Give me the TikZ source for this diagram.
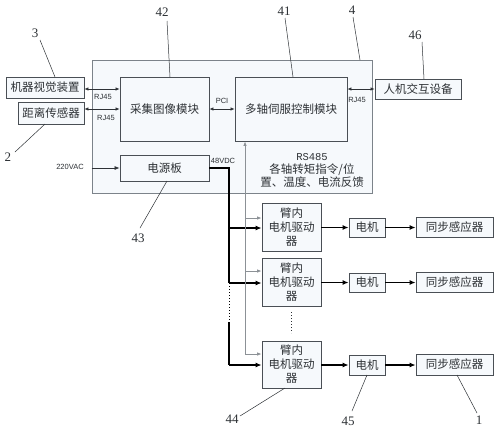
\documentclass[tikz,border=0pt]{standalone}
\usepackage{fontspec}
\setmainfont{Liberation Serif}
\newfontfamily\cjk{Noto Sans CJK SC}
\newfontfamily\smsans{Liberation Sans}
\usetikzlibrary{arrows.meta}
\definecolor{bordc}{HTML}{4A4F55}
\definecolor{bigc}{HTML}{7C838A}
\definecolor{fillc}{HTML}{F6F9FC}
\definecolor{txtc}{HTML}{2E3236}
\definecolor{grayline}{HTML}{8C9196}
\tikzset{
  box/.style={draw=bordc, fill=fillc, line width=0.8pt, inner sep=0pt, align=center,
    font=\cjk\fontsize{11.5}{14}\selectfont, text=txtc},
  bigbox/.style={draw=bigc, fill=fillc, line width=1pt, inner sep=0pt},
  num/.style={font=\fontsize{13}{13}\selectfont, text=txtc, inner sep=0pt},
  lead/.style={draw=txtc, line width=0.5pt},
  tag/.style={font=\smsans\fontsize{7.5}{8}\selectfont, text=txtc, inner sep=0pt},
  bidir/.style={{Latex[length=4pt,width=3.5pt]}-{Latex[length=4pt,width=3.5pt]}, line width=0.7pt, draw=txtc},
  onearr/.style={-{Latex[length=5pt,width=4pt]}, line width=0.7pt, draw=txtc},
  blk/.style={line width=1.4pt, draw=black},
  blkarr/.style={-{Latex[length=6pt,width=5pt]}, line width=1.4pt, draw=black},
  gryarr/.style={-{Latex[length=4.5pt,width=3.5pt]}, line width=0.8pt, draw=grayline},
  dotline/.style={line width=1pt, draw=txtc, dash pattern=on 1pt off 2pt}
}
\begin{document}
\begin{tikzpicture}[x=1pt,y=-1pt]
\useasboundingbox (0,0) rectangle (500,429);
\fill[white] (0,0) rectangle (500,429);

% big box 4
\node[bigbox, minimum width=280pt, minimum height=133pt] (big) at (232,126.5) {};

% inner modules
\node[box, minimum width=89pt, minimum height=64pt] (cap) at (164.5,109) {采集图像模块};
\node[box, minimum width=112pt, minimum height=64pt] (ctrl) at (291,109) {多轴伺服控制模块};
\node[box, minimum width=89pt, minimum height=26pt] (psu) at (164.5,168) {电源板};

% outside devices
\node[box, minimum width=78pt, minimum height=21pt] (vis) at (45,87.5) {机器视觉装置};
\node[box, minimum width=66pt, minimum height=22pt] (dist) at (51,113) {距离传感器};
\node[box, minimum width=86pt, minimum height=20pt] (hmi) at (418,89) {人机交互设备};

% RS485 text
\node[align=center, text=txtc, inner sep=0pt, font=\cjk\fontsize{11.5}{13}\selectfont] (rs) at (312,170)
  {{\fontspec{Liberation Mono}\fontsize{10.5}{13}\selectfont RS485}\\各轴转矩指令/位\\置、温度、电流反馈};

% drivers, motors, sensors
\node[box, minimum width=59pt, minimum height=48pt] (drv1) at (291.5,227) {臂内\\电机驱动\\器};
\node[box, minimum width=59pt, minimum height=48pt] (drv2) at (291.5,282) {臂内\\电机驱动\\器};
\node[box, minimum width=59pt, minimum height=47pt] (drv3) at (291.5,364.5) {臂内\\电机驱动\\器};

\node[box, minimum width=36pt, minimum height=19pt] (mot1) at (367,227.5) {电机};
\node[box, minimum width=36pt, minimum height=19pt] (mot2) at (367,282.5) {电机};
\node[box, minimum width=36pt, minimum height=20pt] (mot3) at (367,365) {电机};

\node[box, minimum width=77pt, minimum height=20pt] (syn1) at (454.5,227) {同步感应器};
\node[box, minimum width=77pt, minimum height=20pt] (syn2) at (454.5,282) {同步感应器};
\node[box, minimum width=77pt, minimum height=21pt] (syn3) at (454.5,364.5) {同步感应器};

% vertical dots between drivers
\coordinate (vd1) at (291.5,312);
\coordinate (vd2) at (291.5,333);
\draw[dotline] (vd1) -- (vd2);

% RJ45 / PCI connectors
\draw[bidir] (vis.east |- 0,89) -- (cap.west |- 0,89);
\draw[bidir] (dist.east |- cap.west) -- (cap.west);
\draw[bidir] (cap.east) -- (ctrl.west);
\draw[bidir] (ctrl.east |- hmi.west) -- (hmi.west);
\node[tag] (rj1) at (103,96.5) {RJ45};
\node[tag] (rj2) at (106,117.5) {RJ45};
\node[tag] (pci) at (222,101) {PCI};
\node[tag] (rj3) at (357,100) {RJ45};

% power
\node[tag] (ac) at (70,167) {220VAC};
\draw[onearr] (big.west |- psu.west) -- (psu.west);
\node[tag] (dc) at (223,161) {48VDC};

% black power bus
\coordinate (bt) at (229,168);
\coordinate (b1) at (229,228);
\coordinate (b2) at (229,283);
\coordinate (b2d) at (229,322);
\coordinate (b3) at (229,365);
\draw[blk] (psu.east) -- (bt) -- (b2);
\draw[dotline, draw=black] (b2) -- (b2d);
\draw[blk] (b2d) -- (b3);
\draw[blkarr] (b1) -- (drv1.west |- b1);
\draw[blkarr] (b2) -- (drv2.west |- b2);
\draw[blkarr] (b3) -- (drv3.west |- b3);

% gray RS485 bus
\coordinate (g0) at (245,141);
\coordinate (g1) at (245,218);
\coordinate (g2) at (245,271);
\coordinate (g3) at (245,354);
\draw[gryarr] (g3) -- (ctrl.south -| g0);
\draw[gryarr] (g1) -- (drv1.west |- g1);
\draw[gryarr] (g2) -- (drv2.west |- g2);
\draw[gryarr] (g3) -- (drv3.west |- g3);

% motor chain arrows
\draw[blkarr] (drv1.east |- mot1.west) -- (mot1.west);
\draw[blkarr] (drv2.east |- mot2.west) -- (mot2.west);
\draw[blkarr] (drv3.east |- mot3.west) -- (mot3.west);
\draw[blkarr] (mot1.east) -- (syn1.west |- mot1.east);
\draw[blkarr] (mot2.east) -- (syn2.west |- mot2.east);
\draw[blkarr] (mot3.east) -- (syn3.west |- mot3.east);

% reference numbers
\node[num] (n42) at (162,12) {42};
\node[num] (n41) at (284,11) {41};
\node[num] (n4) at (352,10) {4};
\node[num] (n46) at (415,35) {46};
\node[num] (n3) at (35,33) {3};
\node[num] (n2) at (8,157) {2};
\node[num] (n43) at (138,238) {43};
\node[num] (n44) at (232,419) {44};
\node[num] (n45) at (348,421) {45};
\node[num] (n1) at (479,420) {1};

\coordinate (l42) at (170,77);
\coordinate (l41) at (293,77);
\coordinate (l4) at (360,60);
\coordinate (l46) at (424,79);
\coordinate (l3) at (55,77);
\coordinate (l2) at (45,124);
\coordinate (l43) at (167,181);
\coordinate (l44) at (285,388);
\coordinate (l45) at (367,375);
\coordinate (l1) at (457,375);
\draw[lead] (167,21) -- (l42);
\draw[lead] (285,18) -- (l41);
\draw[lead] (353,17) -- (l4);
\draw[lead] (422,42) -- (l46);
\draw[lead] (40,40) -- (l3);
\draw[lead] (15,152) -- (l2);
\draw[lead] (140,228) -- (l43);
\draw[lead] (240,416) -- (l44);
\draw[lead] (352,411) -- (l45);
\draw[lead] (477,413) -- (l1);
\end{tikzpicture}
\end{document}
